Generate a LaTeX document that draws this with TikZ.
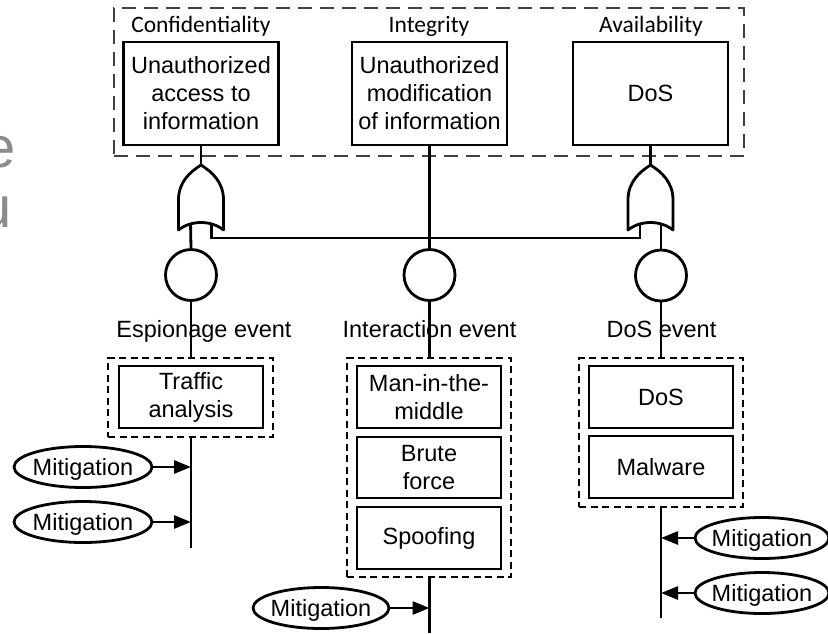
\documentclass[tikz,border=0pt]{standalone}
\usepackage{fontspec}
\setmainfont{Liberation Sans}
\newfontfamily\calfont{Carlito}
\usetikzlibrary{shapes.geometric,arrows.meta}
\definecolor{grpgray}{HTML}{404040}
\definecolor{ghost}{HTML}{8C8C8C}
\tikzset{
  txt/.style={font=\fontsize{23.5}{28}\selectfont},
  ln/.style={line width=2.8pt},
  evbox/.style={draw, line width=2.8pt, minimum width=144pt, minimum height=62pt,
    inner sep=0pt, align=center, txt},
  topbox/.style={evbox, minimum width=155pt, minimum height=103pt},
  grp/.style={draw, line width=2.8pt, dash pattern=on 7pt off 4.5pt, inner sep=0pt},
  ciagrp/.style={draw=grpgray, line width=2.8pt, dash pattern=on 14pt off 8pt, inner sep=0pt},
  cat/.style={font=\calfont\fontsize{23.5}{28}\selectfont, inner sep=0pt, anchor=base},
  evlab/.style={txt, inner sep=0pt, anchor=base},
  evcirc/.style={draw, circle, line width=2.8pt, minimum size=51pt, inner sep=0pt},
  mitig/.style={draw, ellipse, line width=2.8pt, minimum width=138pt, minimum height=41pt,
    inner sep=0pt, txt, text height=17pt, text depth=0pt},
  arr/.style={ln, -{Triangle[length=17pt,width=13pt]}},
  ghosttxt/.style={font=\fontsize{58}{60}\selectfont, text=ghost, inner sep=0pt, anchor=base east},
  orgate/.pic={
    \draw[line width=2.8pt, fill=white, line join=round]
      (-22.5,65) -- (-22.5,35) .. controls (-22.5,17) and (-11,7) .. (0,0)
      .. controls (11,7) and (22.5,17) .. (22.5,35) -- (22.5,65)
      .. controls (10,55) and (-10,55) .. (-22.5,65) -- cycle;
  }
}
\begin{document}
\begin{tikzpicture}[x=1pt,y=-1pt]
\useasboundingbox (0,0) rectangle (828,633);

% clipped ghost letters at the left edge
\node[ghosttxt] (ghoste) at (16,167) {e};
\node[ghosttxt] (ghostu) at (12,227) {u};

% CIA group
\node[ciagrp, minimum width=630pt, minimum height=148pt] (cia) at (429,82) {};
\node[cat] (lc) at (201,32) {Confidentiality};
\node[cat] (li) at (429,32) {Integrity};
\node[cat] (la) at (651,32) {Availability};
\node[topbox] (t1) at (201,93.5) {Unauthorized\\access to\\information};
\node[topbox] (t2) at (429.5,93.5) {Unauthorized\\modification\\of information};
\node[topbox] (t3) at (650.5,93.5) {DoS};

% event circles
\node[evcirc] (c1) at (191,275) {};
\node[evcirc] (c2) at (429.5,275) {};
\node[evcirc] (c3) at (661,275.5) {};

% gate anchors
\coordinate (g1top) at (201,165);
\coordinate (g1l) at (190.5,222);
\coordinate (g1r) at (211.5,222);
\coordinate (g3top) at (650.5,165);
\coordinate (g3l) at (640,222);
\coordinate (g3r) at (661,222);

% event labels
\node[evlab] (el1) at (204,337) {Espionage event};
\node[evlab] (el2) at (429.5,337) {Interaction event};
\node[evlab] (el3) at (661.5,337) {DoS event};

% threat groups
\node[grp, minimum width=165pt, minimum height=79pt] (d1) at (190.5,397.5) {};
\node[grp, minimum width=164pt, minimum height=219pt] (d2) at (429,467.5) {};
\node[grp, minimum width=164pt, minimum height=149pt] (d3) at (661,432.5) {};

\node[evbox] (b11) at (191,397) {Traffic\\analysis};
\node[evbox] (b21) at (429,397) {Man-in-the-\\middle};
\node[evbox, minimum height=61pt] (b22) at (429,467.5) {Brute\\force};
\node[evbox] (b23) at (429,538) {Spoofing};
\node[evbox] (b31) at (661,397) {DoS};
\node[evbox] (b32) at (661,467) {Malware};

% line ends
\coordinate (e1) at (191,548);
\coordinate (e2) at (429.5,633);
\coordinate (e3) at (661,618);

% mitigations
\node[mitig] (m1) at (83,467) {\makebox[0pt]{Mitigation}};
\node[mitig] (m2) at (83,522) {\makebox[0pt]{Mitigation}};
\node[mitig, minimum width=136pt] (m3) at (321,608) {\makebox[0pt]{Mitigation}};
\node[mitig, minimum width=134pt] (m4) at (762,538) {\makebox[0pt]{Mitigation}};
\node[mitig, minimum width=134pt] (m5) at (762,593) {\makebox[0pt]{Mitigation}};

% connectors
\draw[ln] (t1.south) -- (g1top);
\draw[ln] (t3.south) -- (g3top);
\draw[ln] (t2.south) -- (c2.north);
\draw[ln] (g1l) -- (c1.north);
\draw[ln] (g3r) -- (c3.north);
\draw[ln] (g1r) -- ++(0,16) -| (g3l);
\draw[ln] (c1.south) -- (c1.south |- d1.north);
\draw[ln] (c2.south) -- (c2.south |- d2.north);
\draw[ln] (c3.south) -- (c3.south |- d3.north);
\draw[ln] (e1 |- d1.south) -- (e1);
\draw[ln] (e2 |- d2.south) -- (e2);
\draw[ln] (e3 |- d3.south) -- (e3);
\draw[arr] (m1.east) -- (m1.east -| e1);
\draw[arr] (m2.east) -- (m2.east -| e1);
\draw[arr] (m3.east) -- (m3.east -| e2);
\draw[arr] (m4.west) -- (m4.west -| e3);
\draw[arr] (m5.west) -- (m5.west -| e3);

% OR gates
\pic at (g1top) {orgate};
\pic at (g3top) {orgate};
\end{tikzpicture}
\end{document}
